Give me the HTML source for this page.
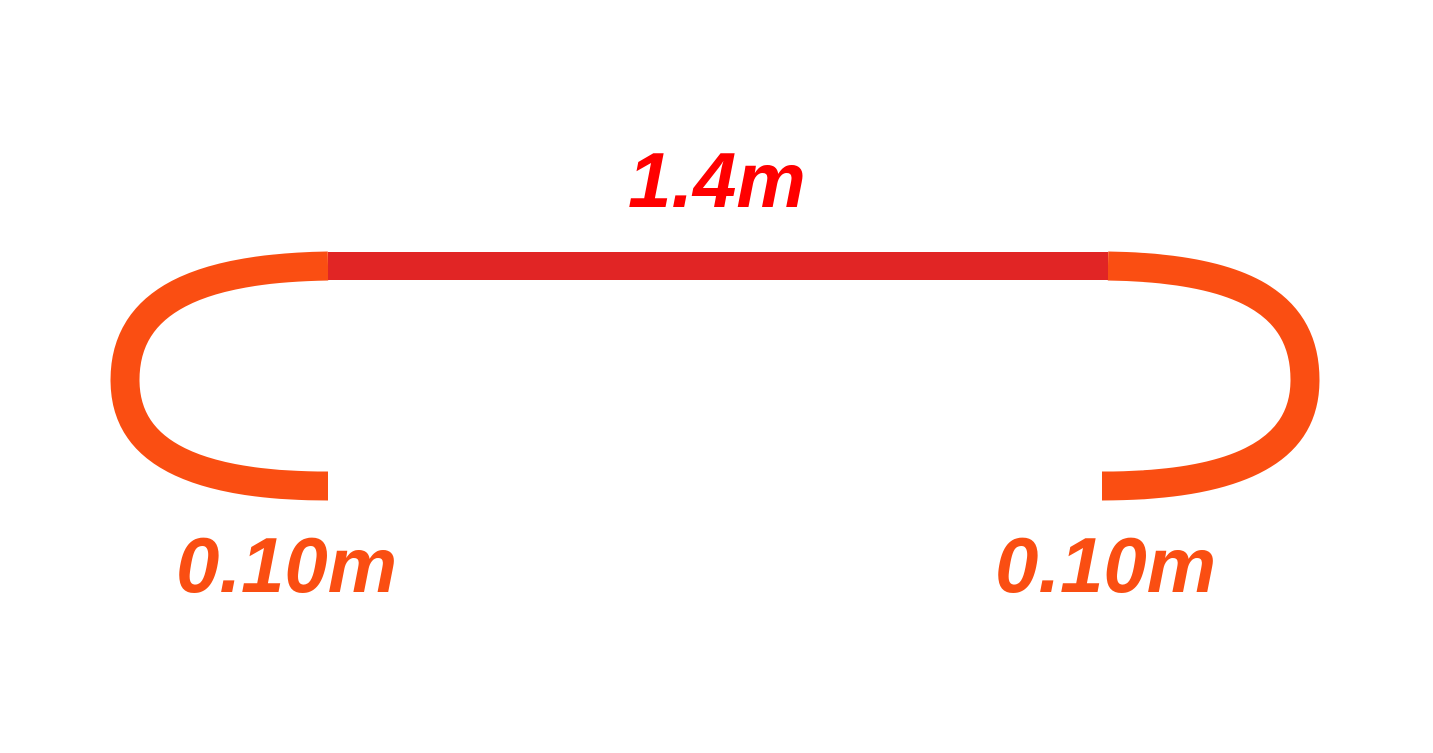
<!DOCTYPE html>
<html><head><meta charset="utf-8"><style>
html,body{margin:0;padding:0;background:#fff;}
svg{display:block;}
text{font-family:"Liberation Sans",sans-serif;font-weight:bold;font-style:italic;font-size:78px;}
</style></head><body>
<svg width="1433" height="753" viewBox="0 0 1433 753">
<rect x="0" y="0" width="1433" height="753" fill="#fff"/>
<path d="M328,266 C200,268 125,300 125,380 C125,455 200,486 328,486" fill="none" stroke="#FA4E12" stroke-width="29"/>
<path d="M1108,266 C1236,268 1305,300 1305,380 C1305,455 1230,486 1102,486" fill="none" stroke="#FA4E12" stroke-width="29"/>
<rect x="328" y="252" width="780" height="28" fill="#E12525"/>
<text x="628" y="207" fill="#FF0000">1.4m</text>
<text x="176" y="592" fill="#FA4E12">0.10m</text>
<text x="995" y="592" fill="#FA4E12">0.10m</text>
</svg>
</body></html>
